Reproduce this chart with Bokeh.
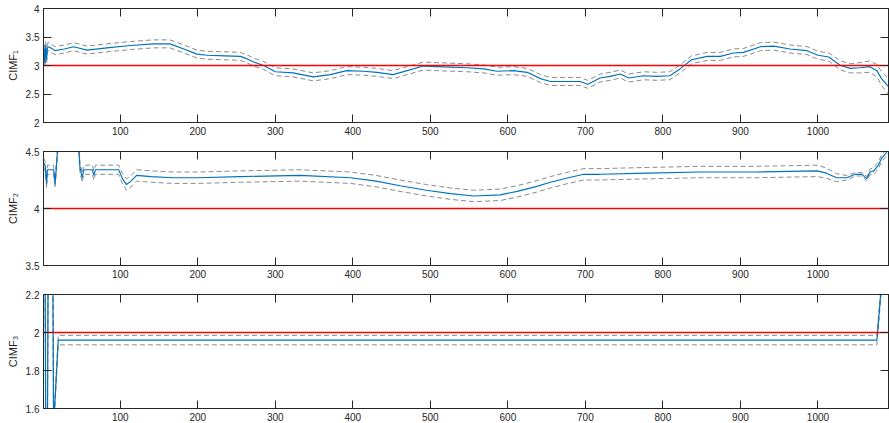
from bokeh.plotting import figure
from bokeh.layouts import column
from bokeh.models import Range1d, LinearAxis, FixedTicker, CustomJSTickFormatter
from bokeh.embed import file_html
from bokeh.resources import INLINE

# ---------------- data ----------------
x_ticks = [100, 200, 300, 400, 500, 600, 700, 800, 900, 1000]
x_span = [1, 1091]

# Panel 1: CIMF_1
x1 = [1, 2, 3, 4, 5, 6, 7, 9, 16, 28, 40, 57, 83, 113, 143, 164, 182, 199, 212, 235,
      255, 263, 272, 285, 300, 323, 349, 371, 392, 414, 431, 452, 470, 491, 508, 547,
      569, 586, 607, 625, 642, 655, 676, 693, 703, 719, 732, 745, 756, 775, 792, 809,
      822, 837, 857, 874, 891, 904, 926, 943, 964, 986, 1000, 1014, 1029, 1042, 1054,
      1067, 1076, 1082, 1091]
y1 = [3.0, 3.3, 3.05, 3.35, 3.1, 3.3, 3.33, 3.32, 3.26, 3.29, 3.33, 3.27, 3.31, 3.35,
      3.38, 3.38, 3.29, 3.2, 3.18, 3.17, 3.16, 3.12, 3.06, 3.0, 2.89, 2.87, 2.8, 2.84,
      2.91, 2.9, 2.88, 2.84, 2.91, 2.99, 2.98, 2.96, 2.94, 2.9, 2.91, 2.88, 2.77, 2.72,
      2.72, 2.72, 2.67, 2.78, 2.81, 2.85, 2.78, 2.82, 2.81, 2.82, 2.94, 3.1, 3.16, 3.16,
      3.22, 3.23, 3.33, 3.34, 3.29, 3.26, 3.18, 3.15, 3.0, 2.95, 2.96, 2.98, 2.91, 2.77,
      2.63]
hw1 = [0.07, 0.07, 0.07, 0.07, 0.07, 0.07, 0.07, 0.07, 0.07, 0.07, 0.07, 0.07, 0.07, 0.07,
       0.07, 0.07, 0.07, 0.07, 0.07, 0.07, 0.07, 0.07, 0.07, 0.07, 0.07, 0.07, 0.07, 0.07,
       0.07, 0.07, 0.07, 0.07, 0.07, 0.07, 0.07, 0.07, 0.07, 0.07, 0.07, 0.07, 0.07, 0.07,
       0.07, 0.07, 0.07, 0.07, 0.07, 0.07, 0.07, 0.07, 0.07, 0.07, 0.07, 0.07, 0.07, 0.07,
       0.07, 0.07, 0.07, 0.07, 0.07, 0.07, 0.07, 0.07, 0.08, 0.08, 0.09, 0.1, 0.11, 0.12,
       0.14]
ref1 = 3.0
yticks1 = [2, 2.5, 3, 3.5, 4]

# Panel 2: CIMF_2
x2 = [1, 3, 5, 6, 14, 16, 18, 20, 30, 46, 48, 51, 53, 55, 64, 66, 68, 98, 103, 108,
      114, 121, 140, 168, 200, 255, 332, 397, 430, 461, 495, 526, 556, 590, 612, 635,
      655, 678, 698, 719, 780, 848, 920, 999, 1011, 1024, 1037, 1048, 1057, 1063, 1067,
      1072, 1078, 1082, 1087, 1091]
y2 = [4.4, 4.38, 4.22, 4.34, 4.34, 4.22, 4.4, 4.6, 4.7, 4.6, 4.36, 4.27, 4.34, 4.34,
      4.34, 4.29, 4.34, 4.34, 4.26, 4.21, 4.24, 4.29, 4.28, 4.27, 4.27, 4.28, 4.29,
      4.27, 4.24, 4.2, 4.16, 4.13, 4.11, 4.12, 4.15, 4.19, 4.23, 4.27, 4.3, 4.3, 4.31,
      4.32, 4.32, 4.33, 4.31, 4.27, 4.27, 4.3, 4.3, 4.26, 4.32, 4.33, 4.38, 4.44, 4.48,
      4.52]
hw2 = [0.04, 0.04, 0.04, 0.04, 0.04, 0.04, 0.04, 0.04, 0.04, 0.04, 0.04, 0.04, 0.04, 0.04,
       0.04, 0.04, 0.04, 0.04, 0.045, 0.05, 0.05, 0.05, 0.05, 0.05, 0.05, 0.05, 0.05,
       0.05, 0.05, 0.05, 0.05, 0.05, 0.05, 0.05, 0.05, 0.05, 0.05, 0.05, 0.05, 0.05,
       0.05, 0.05, 0.05, 0.05, 0.045, 0.035, 0.02, 0.015, 0.015, 0.02, 0.025, 0.03,
       0.03, 0.03, 0.03, 0.03]
ref2 = 4.0
yticks2 = [3.5, 4, 4.5]

# Panel 3: CIMF_3
x3 = [1, 3, 4, 6, 7, 13, 14, 20, 500, 1076, 1083, 1091]
y3 = [2.4, 2.4, 1.4, 1.4, 2.4, 2.4, 1.5, 1.96, 1.96, 1.96, 2.3, 2.3]
hw3 = [0.025, 0.025, 0.025, 0.025, 0.025, 0.025, 0.025, 0.025, 0.025, 0.025, 0.025, 0.025]
ref3 = 2.0
yticks3 = [1.6, 1.8, 2, 2.2]

# ---------------- style ----------------
AX = "#262626"
BLUE = "#0072BD"
GRAY = "#8a8a8a"
RED = "#FF0000"
FONT = "Liberation Sans"


def style_axis(ax, ticks, show_labels):
    ax.ticker = FixedTicker(ticks=ticks)
    ax.axis_line_color = AX
    ax.major_tick_line_color = AX
    ax.major_tick_in = 8
    ax.major_tick_out = 0
    ax.minor_tick_line_color = None
    ax.major_label_text_font = FONT
    if show_labels:
        ax.major_label_text_color = AX
        ax.major_label_text_font_size = "10px"
        ax.major_label_standoff = 4
        ax.formatter = CustomJSTickFormatter(code="return tick.toString();")
    else:
        ax.major_label_text_color = None
        ax.major_label_text_font_size = "0px"
        ax.major_label_standoff = 0


def make_panel(x, y, hw, ref, yr, yticks, label, height, bottom):
    p = figure(width=889, height=height, x_range=Range1d(1, 1091),
               y_range=Range1d(yr[0], yr[1]), output_backend="svg",
               toolbar_location=None, min_border_left=43, min_border_right=1,
               min_border_top=8, min_border_bottom=bottom)
    p.xgrid.visible = False
    p.ygrid.visible = False
    p.outline_line_color = AX
    p.background_fill_color = "white"
    p.border_fill_color = "white"

    style_axis(p.xaxis[0], x_ticks, True)
    style_axis(p.yaxis[0], yticks, True)
    p.yaxis[0].axis_label = label
    p.yaxis[0].axis_label_text_font = FONT
    p.yaxis[0].axis_label_text_font_size = "11px"
    p.yaxis[0].axis_label_text_font_style = "normal"
    p.yaxis[0].axis_label_text_color = AX
    p.yaxis[0].axis_label_standoff = 4

    top = LinearAxis()
    style_axis(top, x_ticks, False)
    p.add_layout(top, "above")
    right = LinearAxis()
    style_axis(right, yticks, False)
    p.add_layout(right, "right")

    upper = [v + h for v, h in zip(y, hw)]
    lower = [v - h for v, h in zip(y, hw)]
    # first renderer: runs along the bottom frame edge (hidden under the axis line)
    p.segment(x0=[x_span[0]], y0=[yr[0]], x1=[x_span[1]], y1=[yr[0]],
              line_color=AX, line_width=1)
    p.line(x, lower, line_color=GRAY, line_dash="5 3", line_width=1)
    p.line(x, upper, line_color=GRAY, line_dash="5 3", line_width=1)
    p.line(x, y, line_color=BLUE, line_width=1.15)
    p.segment(x0=[x_span[0]], y0=[ref], x1=[x_span[1]], y1=[ref],
              line_color=RED, line_width=1.3)
    return p


p1 = make_panel(x1, y1, hw1, ref1, (2, 4), yticks1, "CIMF\u2081", 143, 21)
p2 = make_panel(x2, y2, hw2, ref2, (3.5, 4.5), yticks2, "CIMF\u2082", 143, 21)
p3 = make_panel(x3, y3, hw3, ref3, (1.6, 2.2), yticks3, "CIMF\u2083", 137, 15)

layout = column(p1, p2, p3, spacing=0)

open("out.html", "w").write(file_html(layout, INLINE))
